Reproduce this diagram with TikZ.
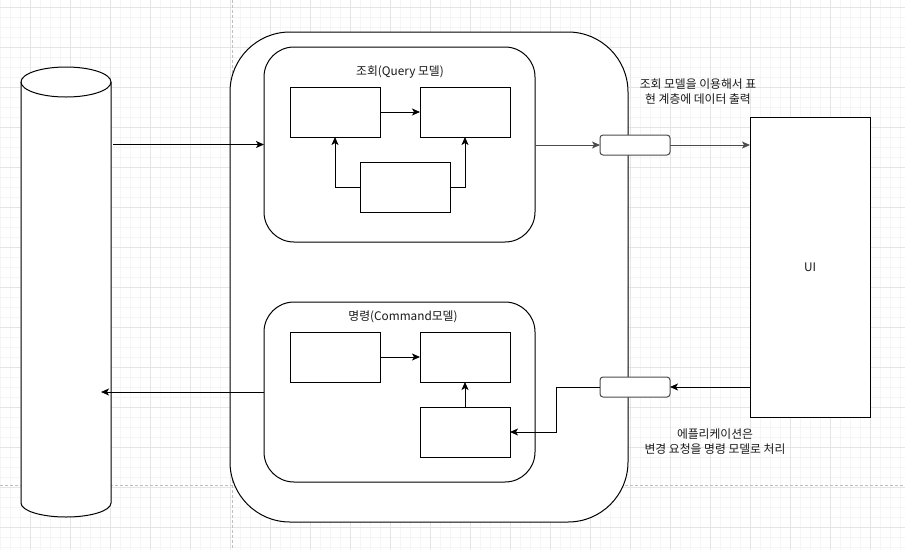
\documentclass[tikz,border=0pt]{standalone}
\usepackage{fontspec}
\setmainfont{Noto Sans CJK KR}
\usetikzlibrary{arrows.meta}
\begin{document}
\begin{tikzpicture}[x=1pt,y=-1pt,
  minorgrid/.style={draw=black!4,line width=0.6pt},
  majorgrid/.style={draw=black!10,line width=0.8pt},
  pagebreak/.style={draw=black!25,dashed,line width=0.7pt,dash pattern=on 3pt off 2pt},
  shp/.style={draw=black,line width=1pt,fill=white,outer sep=0pt},
  box/.style={shp,minimum width=90,minimum height=50,inner sep=0pt},
  panel/.style={shp,rounded corners=30,minimum width=271,minimum height=195},
  tag/.style={draw=black!70,line width=1pt,fill=white,rounded corners=3,minimum width=70,minimum height=20,inner sep=0pt,outer sep=0pt},
  arr/.style={draw=black,line width=1pt,-{Stealth[length=8pt,width=7pt,inset=2pt]}},
  garr/.style={draw=black!70,line width=1pt,-{Stealth[length=8pt,width=7pt,inset=2pt]}},
  lbl/.style={font=\fontsize{11.8}{15}\selectfont,align=center,inner sep=0pt,text=black!90}
]
\useasboundingbox (0,0) rectangle (905,550);
\fill[white] (0,0) rectangle (905,550);
% grid
\foreach \x in {0,10,...,900} \draw[minorgrid] (\x,0) -- (\x,550);
\foreach \y in {-3,7,...,547} \draw[minorgrid] (0,\y) -- (905,\y);
\foreach \x in {30,70,...,890} \draw[majorgrid] (\x,0) -- (\x,550);
\foreach \y in {7,47,...,527} \draw[majorgrid] (0,\y) -- (905,\y);
\draw[pagebreak] (232,0) -- (232,550);
\draw[pagebreak] (0,485) -- (905,485);

% database cylinder
\node[minimum width=90,minimum height=450,inner sep=0pt,outer sep=0pt] (db) at (66,292) {};
\filldraw[fill=white,draw=black,line width=1pt]
  (21,82) -- (21,503) arc[start angle=180,end angle=0,x radius=45,y radius=14] -- (111,82)
  arc[start angle=0,end angle=-180,x radius=45,y radius=15] -- cycle;
\draw[line width=1pt] (21,82) arc[start angle=180,end angle=0,x radius=45,y radius=15];

% outer container
\node[shp,rounded corners=60,minimum width=398,minimum height=490] (outer) at (429,277) {};

% query panel
\node[panel] (q) at (399.5,144.5) {};
\node[lbl] (qt) at (400,72) {조회(Query 모델)};
\node[box] (qa) at (335,112) {};
\node[box] (qb) at (465,112) {};
\node[box] (qc) at (405,187) {};

% command panel
\node[panel,minimum height=180] (c) at (399.5,392) {};
\node[lbl] (ct) at (403,317) {명령(Command모델)};
\node[box] (cd) at (335,357) {};
\node[box] (ce) at (465,357) {};
\node[box] (cf) at (465,432) {};

% UI
\node[shp,minimum width=120,minimum height=300,inner sep=0pt] (ui) at (810,267) {};
\node[lbl] (uit) at (810,267) {UI};

% tags
\node[tag] (s1) at (635,145) {};
\node[tag] (s2) at (635,387) {};

% labels
\node[lbl] (l1) at (698,91.5) {조회 모델을 이용해서 표\\현 계층에 데이터 출력};
\node[lbl] (l2) at (715,441.5) {에플리케이션은\\변경 요청을 명령 모델로 처리};

% connectors
\coordinate (dbout) at (113,144.5);
\draw[arr] (dbout) -- (q.west);
\draw[arr] (qa.east) -- (qb.west);
\draw[arr] (qc.west) -| (qa.south);
\draw[arr] (qc.east) -| (qb.south);
\draw[garr] (q.east |- s1.west) -- (s1.west);
\draw[garr] (s1.east) -- (ui.west |- s1.east);

\draw[arr] (cd.east) -- (ce.west);
\draw[arr] (cf.north) -- (ce.south);
\draw[arr] (ui.west |- s2.east) -- (s2.east);
\coordinate (bend) at (556,387);
\draw[arr] (s2.west) -- (bend) |- (cf.east);
\coordinate (dbin) at (101,392);
\draw[arr] (c.west) -- (dbin);
\end{tikzpicture}
\end{document}
